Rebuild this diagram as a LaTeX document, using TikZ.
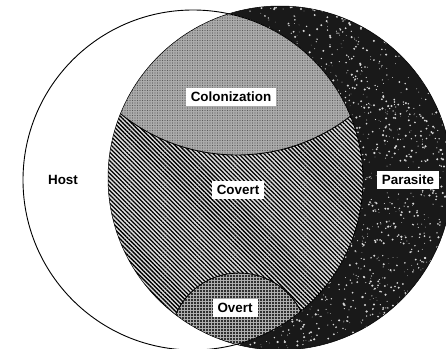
\documentclass[tikz,border=0pt]{standalone}
\usepackage{fontspec}
\setsansfont{Liberation Sans}
\usetikzlibrary{patterns,patterns.meta}

\begin{document}
\begin{tikzpicture}[
    x=1pt, y=-1pt,
    lbl/.style={font=\sffamily\bfseries\fontsize{13.4}{16}\selectfont, inner sep=0pt},
    tag/.style={lbl, fill=white, inner xsep=5pt, minimum height=18pt},
    rim/.style={draw=black, line width=0.9pt}
]
\def\hostc{(193,180) circle (170)}
\def\parac{(280,178) circle (172)}
\useasboundingbox (0,0) rectangle (446,348);
\clip (0,0) rectangle (446,348);

% parasite with speckles
\fill[black!90] \parac;
\begin{scope}
  \clip \parac;
  \pgfmathsetseed{11}
  \foreach \k in {1,...,3200}
    \fill[white!70!gray] ({108+344*rnd},{6+344*rnd}) circle ({0.3+0.9*rnd});
\end{scope}

% host
\fill[white] \hostc;

% overlap: covert, colonization, overt
\begin{scope}
  \clip \hostc;
  \clip \parac;
  \fill[gray!25] (0,0) rectangle (446,348);
  \fill[pattern={Lines[angle=-45, distance=3pt, line width=1.3pt]}] (0,0) rectangle (446,348);
  \fill[gray!65] (237,-30) circle (185);
  \fill[pattern={Dots[distance=2.5pt, radius=0.7pt]}, pattern color=gray!70!black] (237,-30) circle (185);
  \fill[gray!60] (239,342) circle (69);
  \fill[pattern={Dots[distance=3pt, radius=1.2pt]}] (239,342) circle (69);
  \draw[rim] (237,-30) circle (185);
  \draw[rim] (239,342) circle (69);
\end{scope}
\draw[rim] \hostc;
\draw[draw=black, line width=0.5pt] \parac;

% labels
\node[lbl] (host) at (63,180) {Host};
\node[tag] (colon) at (231,97) {Colonization};
\node[tag] (covert) at (238,190) {Covert};
\node[tag] (overt) at (235,308) {Overt};
\node[tag] (para) at (408,180) {Parasite};
\end{tikzpicture}
\end{document}
